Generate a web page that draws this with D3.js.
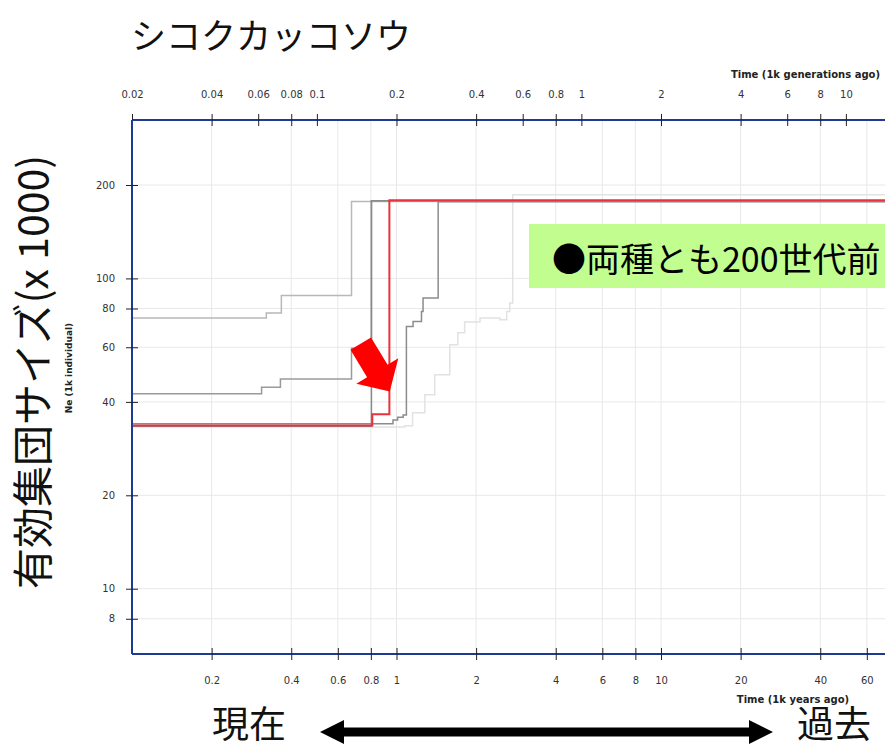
<!DOCTYPE html>
<html><head><meta charset="utf-8">
<script src="https://cdn.jsdelivr.net/npm/d3@7/dist/d3.min.js"></script>
<style>body{margin:0;background:#fff}</style>
</head><body><svg id="c" width="885" height="749"></svg>
<script>
// ---- data ----
const yearTicks = [0.2, 0.4, 0.6, 0.8, 1, 2, 4, 6, 8, 10, 20, 40, 60];
const genTicks  = [0.02, 0.04, 0.06, 0.08, 0.1, 0.2, 0.4, 0.6, 0.8, 1, 2, 4, 6, 8, 10];
const neTicks   = [8, 10, 20, 40, 60, 80, 100, 200];
const genYears = 5; // years per generation

// main estimate (red)
const redTime = [0.1, 0.81, 0.94, 100];
const redNe   = [33.6, 36.5, 178.5, 178.5];
// bootstrap replicates (grey)
const greyATime = [0.1, 0.322, 0.367, 0.676, 100];
const greyANe   = [74.5, 77.3, 88.1, 177, 177];
const greyBTime = [0.1, 0.309, 0.364, 0.676, 0.804, 100];
const greyBNe   = [42.5, 44.6, 47.4, 59.6, 178, 178];
const greyCTime = [0.1, 0.804, 100];
const greyCNe   = [33.4, 178, 178];
const greyDTime = [0.1, 0.97, 1.01, 1.06, 1.09, 1.155, 1.243, 1.26, 1.437, 100];
const greyDNe   = [34.0, 35.0, 35.7, 36.3, 70, 72.6, 78.3, 86.5, 176.5, 176.5];
const greyETime = [0.1, 1.075, 1.15, 1.28, 1.395, 1.59, 1.705, 1.81, 2.07, 2.46, 2.61, 2.68, 2.75, 100];
const greyENe   = [33.2, 33.5, 36.9, 42.2, 48.9, 61.1, 66.8, 72.4, 74.6, 73.6, 78.2, 83.4, 186, 186];

const series = [
  {t: greyETime, v: greyENe, c: "#e2e2e2", w: 1.5},
  {t: greyATime, v: greyANe, c: "#b8b8b8", w: 1.5},
  {t: greyBTime, v: greyBNe, c: "#9a9a9a", w: 1.5},
  {t: greyCTime, v: greyCNe, c: "#8a8a8a", w: 1.5},
  {t: greyDTime, v: greyDNe, c: "#8c8c8c", w: 1.5},
  {t: redTime,   v: redNe,   c: "#e8323c", w: 2}
];

// ---- layout ----
const svg = d3.select("#c");
const L = 132, T = 120, B = 654, R = 925.5;
const x = d3.scaleLog().domain([0.1, 100]).range([L, R]);
const xg = d3.scaleLog().domain([0.1 / genYears, 100 / genYears]).range([L, R]);
const y = d3.scaleLog().domain([6.16, 324]).range([B, T]);
const axisColor = "#1f3a93";
const tickFont = "DejaVu Sans, sans-serif";

svg.append("defs").append("clipPath").attr("id", "plot")
  .append("rect").attr("x", L).attr("y", T).attr("width", R - L).attr("height", B - T);

// grid
const grid = svg.append("g");
grid.selectAll("line.v").data(yearTicks).join("line")
  .attr("x1", d => x(d)).attr("x2", d => x(d)).attr("y1", T).attr("y2", B)
  .attr("stroke", "#e8e8e8").attr("stroke-width", 1);
grid.selectAll("line.h").data(neTicks).join("line")
  .attr("x1", L).attr("x2", R).attr("y1", d => y(d)).attr("y2", d => y(d))
  .attr("stroke", "#e8e8e8").attr("stroke-width", 1);

// lines
const line = d3.line().x(d => x(d[0])).y(d => y(d[1])).curve(d3.curveStepAfter);
const lg = svg.append("g").attr("clip-path", "url(#plot)");
series.forEach(s => {
  lg.append("path").datum(s.t.map((t, i) => [t, s.v[i]]))
    .attr("d", line).attr("fill", "none")
    .attr("stroke", s.c).attr("stroke-width", s.w);
});

// axes
const bAxis = svg.append("g").attr("transform", `translate(0,${B})`)
  .call(d3.axisBottom(x).tickValues(yearTicks).tickFormat(d3.format("~g")).tickSize(6).tickPadding(17));
const tAxis = svg.append("g").attr("transform", `translate(0,${T})`)
  .call(d3.axisTop(xg).tickValues(genTicks).tickFormat(d3.format("~g")).tickSize(6).tickPadding(16));
const lAxis = svg.append("g").attr("transform", `translate(${L},0)`)
  .call(d3.axisLeft(y).tickValues(neTicks).tickFormat(d3.format("~g")).tickSize(6).tickPadding(11));
[bAxis, tAxis].forEach(a => a.selectAll(".tick line").attr("y1", -6).attr("y2", 6).attr("stroke", "#222"));
lAxis.selectAll(".tick line").attr("x1", -6).attr("x2", 6).attr("stroke", "#222");
[bAxis, tAxis, lAxis].forEach(a => {
  a.select(".domain").attr("stroke", axisColor).attr("stroke-width", 2);
  a.selectAll(".tick text").attr("font-family", tickFont).attr("font-size", 10).attr("fill", "#333");
});
tAxis.select(".domain").attr("d", `M${L},0H${R}`);
bAxis.select(".domain").attr("d", `M${L},0H${R}`);
lAxis.select(".domain").attr("d", `M0,${T}V${B}`);

// axis titles
svg.append("text").attr("x", 880).attr("y", 74).attr("text-anchor", "end")
  .attr("dominant-baseline", "central").attr("font-family", tickFont)
  .attr("font-weight", "bold").attr("font-size", 10).attr("fill", "#222")
  .text("Time (1k generations ago)");
svg.append("text").attr("x", 793).attr("y", 699).attr("text-anchor", "middle")
  .attr("dominant-baseline", "central").attr("font-family", tickFont)
  .attr("font-weight", "bold").attr("font-size", 10).attr("fill", "#222")
  .text("Time (1k years ago)");
svg.append("text").attr("transform", "translate(69,368) rotate(-90)").attr("text-anchor", "middle")
  .attr("dominant-baseline", "central").attr("font-family", tickFont)
  .attr("font-weight", "bold").attr("font-size", 9).attr("fill", "#222")
  .text("Ne (1k individual)");

// Japanese annotations
const jp = "'Noto Sans CJK JP', sans-serif";
svg.append("text").attr("x", 131).attr("y", 33).attr("dominant-baseline", "central")
  .attr("font-family", jp).attr("font-size", 35).attr("fill", "#111").text("シコクカッコソウ");
svg.append("text").attr("transform", "translate(30,372) rotate(-90)").attr("text-anchor", "middle")
  .attr("dominant-baseline", "central").attr("font-family", jp).attr("font-size", 41)
  .attr("fill", "#111").text("有効集団サイズ(x 1000)");
svg.append("text").attr("x", 212).attr("y", 738)
  .attr("font-family", jp).attr("font-size", 37).attr("fill", "#111").text("現在");
svg.append("text").attr("x", 797).attr("y", 738)
  .attr("font-family", jp).attr("font-size", 37).attr("fill", "#111").text("過去");

// double arrow
const ay = 732, ax1 = 320, ax2 = 773, hl = 24, hh = 12, sh = 4.5;
svg.append("path").attr("fill", "#000").attr("d",
  `M${ax1},${ay} L${ax1 + hl},${ay - hh} L${ax1 + hl},${ay - sh} L${ax2 - hl},${ay - sh} L${ax2 - hl},${ay - hh}
   L${ax2},${ay} L${ax2 - hl},${ay + hh} L${ax2 - hl},${ay + sh} L${ax1 + hl},${ay + sh} L${ax1 + hl},${ay + hh} Z`);

// green note box
svg.append("rect").attr("x", 529).attr("y", 224).attr("width", 400).attr("height", 64).attr("fill", "#c2fd8f");
svg.append("text").attr("x", 552).attr("y", 257).attr("dominant-baseline", "central")
  .attr("font-family", jp).attr("font-size", 34).attr("fill", "#000").text("●両種とも200世代前");

// red block arrow pointing at the drop
const tipX = x(0.943), tipY = y(43.2);
const ux = 0.518, uy = 0.855, nx = 0.855, ny = -0.518;
const P = (a, b) => [tipX - a * ux + b * nx, tipY - a * uy + b * ny];
const pts = [P(56, 12), P(24, 12), P(24, 24.5), P(0, 0), P(24, -24.5), P(24, -12), P(56, -12)];
svg.append("polygon").attr("points", pts.map(p => p.join(",")).join(" ")).attr("fill", "#ff0000");
</script></body></html>
